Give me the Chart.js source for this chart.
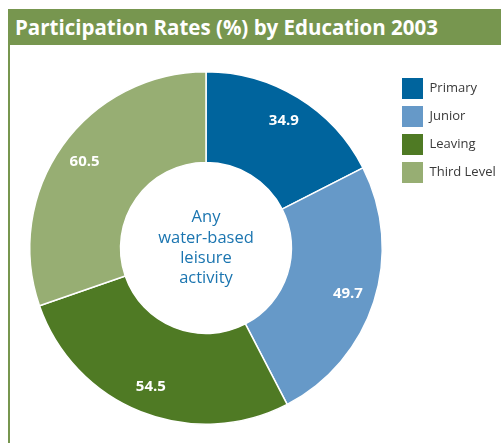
<!DOCTYPE html>
<html>
<head>
<meta charset="utf-8">
<script src="https://cdn.jsdelivr.net/npm/chart.js@4/dist/chart.umd.min.js"></script>
<style>
  html, body { margin: 0; padding: 0; background: #fff; }
  body { width: 501px; height: 443px; position: relative; overflow: hidden; font-family: "Open Sans", sans-serif; }
  .titlebar {
    position: absolute; left: 8px; top: 9px; width: 493px; height: 36px;
    background: #77964f; color: #fff; font-weight: 700; font-size: 20.5px;
    line-height: 36px; padding-left: 7px; box-sizing: border-box; white-space: nowrap;
  }
  .leftrule { position: absolute; left: 8px; top: 45px; width: 2px; height: 398px; background: #77964f; }
  #wrap { position: absolute; left: 0; top: 0; width: 501px; height: 443px; }
</style>
</head>
<body>
<div class="titlebar">Participation Rates (%) by Education 2003</div>
<div class="leftrule"></div>
<div id="wrap"><canvas id="donut"></canvas></div>
<script>
  // education levels and participation rates
  var levels = ['Primary', 'Junior', 'Leaving', 'Third Level'];
  var rates = [34.9, 49.7, 54.5, 60.5];
  var colours = ['#00649d', '#6699c8', '#4f7a24', '#97ae73'];
  var centreText = ['Any', 'water-based', 'leisure', 'activity'];

  // value labels on each slice
  var sliceLabels = {
    id: 'sliceLabels',
    afterDatasetsDraw: function (chart) {
      var ctx = chart.ctx;
      var meta = chart.getDatasetMeta(0);
      ctx.save();
      ctx.fillStyle = '#fff';
      ctx.font = 'bold 15px "Open Sans"';
      ctx.textAlign = 'center';
      ctx.textBaseline = 'middle';
      meta.data.forEach(function (arc, i) {
        var p = arc.getProps(['x', 'y', 'startAngle', 'endAngle', 'innerRadius', 'outerRadius'], true);
        var mid = (p.startAngle + p.endAngle) / 2;
        var r = p.innerRadius + 0.7 * (p.outerRadius - p.innerRadius);
        ctx.fillText(rates[i].toFixed(1), p.x + Math.cos(mid) * r, p.y + Math.sin(mid) * r);
      });
      ctx.restore();
    }
  };

  // text in the hole
  var centreLabel = {
    id: 'centreLabel',
    afterDatasetsDraw: function (chart) {
      var ctx = chart.ctx;
      var arc = chart.getDatasetMeta(0).data[0];
      ctx.save();
      ctx.fillStyle = '#1b75b0';
      ctx.font = '16.5px "Open Sans"';
      ctx.textAlign = 'center';
      ctx.textBaseline = 'middle';
      var lh = 20.4;
      var y0 = arc.y - lh * (centreText.length - 1) / 2;
      centreText.forEach(function (t, i) {
        ctx.fillText(t, arc.x, y0 + i * lh);
      });
      ctx.restore();
    }
  };

  // fixed legend width so the boxes sit off the ring
  var legendWidth = {
    id: 'legendWidth',
    afterInit: function (chart) {
      var fit = chart.legend.fit;
      chart.legend.fit = function () {
        fit.call(this);
        this.width = 106;
      };
    }
  };

  new Chart(document.getElementById('donut'), {
    type: 'doughnut',
    data: {
      labels: levels,
      datasets: [{
        data: rates,
        backgroundColor: colours,
        borderColor: '#fff',
        borderWidth: 1.5
      }]
    },
    options: {
      responsive: true,
      maintainAspectRatio: false,
      animation: false,
      cutout: '48.5%',
      layout: { padding: { top: 71, bottom: 18, left: 17, right: 0 } },
      plugins: {
        tooltip: { enabled: false },
        legend: {
          position: 'right',
          align: 'start',
          labels: {
            boxWidth: 21,
            boxHeight: 21,
            padding: 7,
            color: '#3a3a3a',
            font: { family: '"Open Sans"', size: 13 },
            generateLabels: function (chart) {
              var items = Chart.overrides.doughnut.plugins.legend.labels.generateLabels(chart);
              items.forEach(function (it) { it.lineWidth = 0; it.strokeStyle = it.fillStyle; });
              return items;
            }
          }
        }
      }
    },
    plugins: [sliceLabels, centreLabel, legendWidth]
  });
</script>
</body>
</html>
